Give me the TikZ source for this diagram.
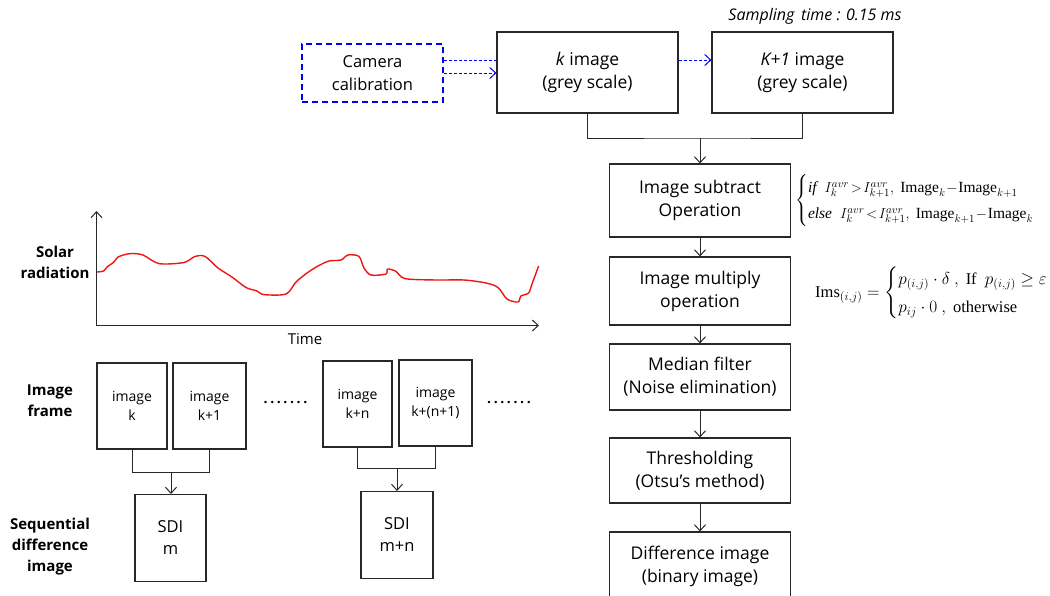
\documentclass[tikz,border=0pt]{standalone}
\usepackage{amsmath}
\usepackage{fontspec}
\setmainfont{Liberation Serif}
\setsansfont{Open Sans}
\usetikzlibrary{arrows.meta}
\definecolor{lineg}{RGB}{40,40,40}
\definecolor{solarred}{RGB}{240,20,20}
\begin{document}
\begin{tikzpicture}[x=1pt,y=-1pt,
  box/.style={draw=lineg, line width=1.1pt, inner sep=0pt, align=center,
    font=\sffamily\fontsize{17.5}{23}\selectfont},
  sbox/.style={draw=lineg, line width=1.1pt, inner sep=0pt, align=center,
    font=\sffamily\fontsize{14}{19}\selectfont},
  camb/.style={draw=blue, dash pattern=on 6pt off 4pt, line width=1.6pt, inner sep=0pt,
    align=center, font=\sffamily\fontsize{16.5}{23}\selectfont},
  arr/.style={-{Straight Barb[length=6pt,width=11pt]}, line width=1pt, draw=lineg},
  conn/.style={line width=1pt, draw=lineg},
  bluedot/.style={draw=blue, line width=1pt, dash pattern=on 3pt off 2pt},
  bluearr/.style={bluedot, -{Straight Barb[length=6pt,width=11pt]}},
  lab/.style={font=\sffamily\bfseries\fontsize{15}{21}\selectfont, align=center, inner sep=0pt},
  eq/.style={font=\fontsize{15.5}{20}\selectfont, inner sep=0pt, anchor=west}
]
\useasboundingbox (0,0) rectangle (1050,595);
\clip (0,0) rectangle (1050,595);

% top row
\node[camb, minimum width=141pt, minimum height=58pt] (cam) at (372.5,73) {Camera\\calibration};
\node[box, minimum width=181pt, minimum height=81pt] (k) at (587.5,72.5) {\textit{k} image\\(grey scale)};
\node[box, minimum width=181pt, minimum height=81pt] (k1) at (802.5,72.5) {\textit{K+1} image\\(grey scale)};
\node[font=\sffamily\itshape\fontsize{16}{18}\selectfont, inner sep=0pt] (samp) at (815,16) {Sampling\, time : 0.15 ms};

\draw[bluedot] ([yshift=13pt]cam.east) -- ([yshift=13pt]cam.east -| k.west);
\draw[bluearr] (cam.east) -- (cam.east -| k.west);
\draw[bluearr] ([yshift=12.5pt]k.east) -- ([yshift=12.5pt]k1.west);

% right column
\node[box, minimum width=181pt, minimum height=73pt] (sub) at (700,200.5) {Image subtract\\Operation};
\node[box, minimum width=181pt, minimum height=68pt] (mul) at (700,291) {Image multiply\\operation};
\node[box, minimum width=181pt, minimum height=66pt] (med) at (700,377) {Median filter\\(Noise elimination)};
\node[box, minimum width=181pt, minimum height=65pt] (thr) at (700,470.5) {Thresholding\\(Otsu's method)};
\node[box, minimum width=181pt, minimum height=68pt] (dif) at (700,566) {Difference image\\(binary image)};

\coordinate (jtop) at (700,138);
\draw[conn] (k.south) |- (jtop) -| (k1.south);
\draw[arr] (jtop) -- (sub.north);
\draw[arr] (sub.south) -- (mul.north);
\draw[arr] (mul.south) -- (med.north);
\draw[arr] (med.south) -- (thr.north);
\draw[arr] (thr.south) -- (dif.north);

% equations
\node[eq] (eq1) at (795,200.5) {$\begin{cases}
  \mathit{if}\;\; I_k^{avr}\!>\! I_{k+1}^{avr},\ \text{Image}_k \!-\! \text{Image}_{k+1}\\[2pt]
  \mathit{else}\;\; I_k^{avr}\!<\! I_{k+1}^{avr},\ \text{Image}_{k+1} \!-\! \text{Image}_k
\end{cases}$};
\node[eq, font=\fontsize{16.5}{22}\selectfont] (eq2) at (815,293) {$\text{Ims}_{(i,j)} = \begin{cases}
  p_{(i,j)}\cdot\delta\ ,\ \text{If}\ \ p_{(i,j)} \ge \varepsilon\\[2pt]
  p_{ij}\cdot 0\ ,\ \text{otherwise}
\end{cases}$};

% solar radiation plot
\coordinate (org) at (96.5,325.5);
\coordinate (ytop) at (96.5,211);
\coordinate (xend) at (539,325.5);
\draw[arr] (org) -- (ytop);
\draw[arr] (org) -- (xend);
\node[font=\sffamily\fontsize{15}{18}\selectfont, inner sep=0pt] (time) at (305,339) {Time};
\node[lab] (solar) at (55,262) {Solar\\radiation};
\draw[solarred, line width=1.4pt, line join=round] plot[smooth, tension=0.5] coordinates {
 (97,272) (103.6,271) (107,267) (114,262) (118,257) (130,253.6) (143,255) (159,263.6)
 (184,262.5) (195,256.4) (205,256.4) (218,268) (232,277) (246,287.5) (257,291) (264,294.6)
 (286,294) (296,282) (307,273) (318,266) (329,261) (341,260) (348,255) (359,256.4)
 (364,268) (371,275) (386,274) (387.5,269) (396,271.4) (405,278.6) (436,280) (464,280)
 (486,283) (498,287.5) (507,299) (518,302) (521,296) (528.6,293) (532,284) (538.6,266)};

% image frames
\node[lab] (frame) at (50,401) {Image\\frame};
\node[lab] (seq) at (50,547) {Sequential\\difference\\image};
\node[sbox, minimum width=70pt, minimum height=86pt] (ik) at (132,406) {image\\k};
\node[sbox, minimum width=73pt, minimum height=86pt] (ik1) at (209.5,406) {image\\k+1};
\node[sbox, minimum width=69pt, minimum height=86pt] (ikn) at (357.5,404) {image\\k+n};
\node[sbox, minimum width=73pt, minimum height=86pt] (ikn1) at (435.5,403) {image\\k+(n+1)};
\node[box, font=\sffamily\fontsize{16.5}{22}\selectfont, minimum width=71pt, minimum height=87pt] (sdi) at (170.5,538) {SDI\\m};
\node[box, font=\sffamily\fontsize{16.5}{22}\selectfont, minimum width=72pt, minimum height=87pt] (sdin) at (397,535) {SDI\\m+n};
\node[font=\sffamily\bfseries\fontsize{14}{16}\selectfont, inner sep=0pt] (dots1) at (285.5,403)
  {.\kern2.6pt.\kern2.6pt.\kern2.6pt.\kern2.6pt.\kern2.6pt.\kern2.6pt.};
\node[font=\sffamily\bfseries\fontsize{14}{16}\selectfont, inner sep=0pt] (dots2) at (509,403)
  {.\kern2.6pt.\kern2.6pt.\kern2.6pt.\kern2.6pt.\kern2.6pt.\kern2.6pt.};

\coordinate (j1) at (171,472.5);
\coordinate (j2) at (397,468.5);
\draw[conn] (ik.south) |- (j1) -| (ik1.south);
\draw[arr] (j1) -- (j1 |- sdi.north);
\draw[conn] (ikn.south) |- (j2) -| (ikn1.south);
\draw[arr] (j2) -- (sdin.north);
\end{tikzpicture}
\end{document}
